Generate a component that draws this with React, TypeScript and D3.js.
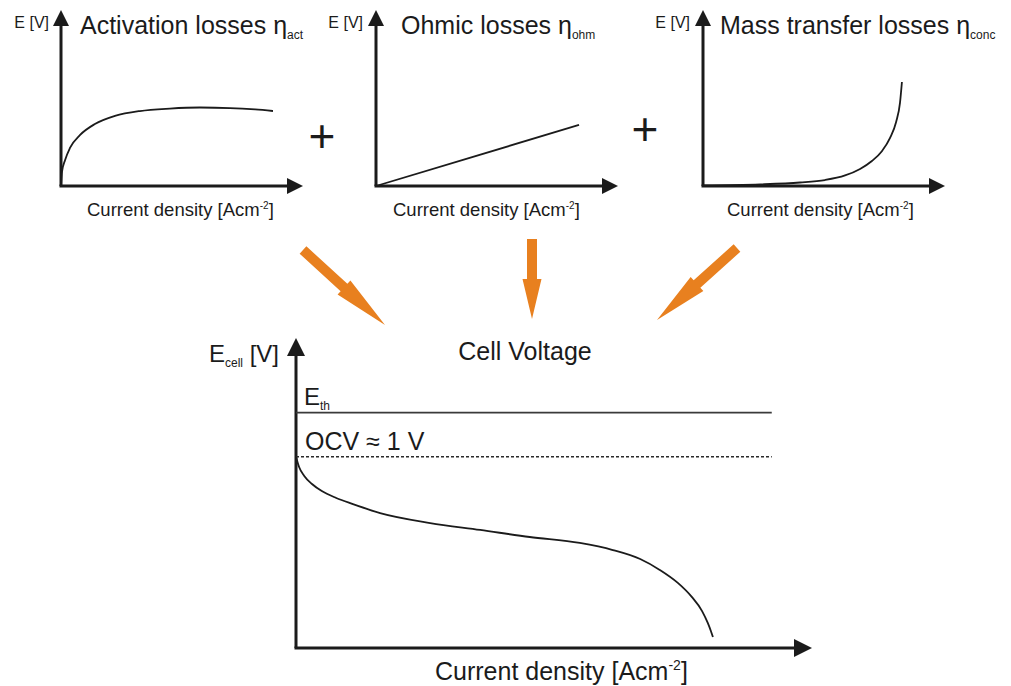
import React from "react";
import * as d3 from "d3";

// ---------- data (normalised units) ----------
const activationX = [0, 0.004, 0.017, 0.037, 0.079, 0.14, 0.223, 0.326, 0.45, 0.574, 0.698, 0.802, 0.876];
const activationY = [0, 0.08, 0.148, 0.216, 0.29, 0.352, 0.398, 0.426, 0.44, 0.446, 0.443, 0.435, 0.426];

const ohmicX = [0, 0.839];
const ohmicY = [0, 0.347];

const massX = [0, 0.236, 0.401, 0.504, 0.587, 0.649, 0.698, 0.74, 0.773, 0.798, 0.814, 0.822];
const massY = [0.003, 0.009, 0.02, 0.034, 0.06, 0.097, 0.142, 0.199, 0.273, 0.364, 0.472, 0.591];

// cell voltage (V) vs current density (normalised)
const cellX = [0, 0.006, 0.016, 0.031, 0.05, 0.078, 0.109, 0.163, 0.26, 0.357, 0.453, 0.55, 0.614, 0.667, 0.705, 0.74, 0.767, 0.787, 0.798, 0.804, 0.808];
const cellY = [1.0, 0.946, 0.899, 0.857, 0.82, 0.784, 0.753, 0.705, 0.653, 0.617, 0.58, 0.549, 0.512, 0.465, 0.408, 0.34, 0.267, 0.193, 0.131, 0.089, 0.057];

const E_TH = 1.23; // theoretical voltage
const OCV = 1.0; // open circuit voltage
const refLineEnd = 0.922;

const panelTitles = ["Activation losses ", "Ohmic losses ", "Mass transfer losses "];
const panelSubs = ["act", "ohm", "conc"];
const xLabel = "Current density [Acm";
const yLabelTop = "E [V]";

const FONT = "'Liberation Sans', Arial, Helvetica, sans-serif";
const INK = "#1b1b1b";
const ORANGE = "#E8801F";

const W = 1011;
const H = 686;

type Pt = [number, number];
const zip = (xs: number[], ys: number[]): Pt[] => xs.map((x, i) => [x, ys[i]]);

function Arrowhead({ x, y, dir, size }: { x: number; y: number; dir: "up" | "right"; size: number }) {
  const h = size, w = size / 2;
  const pts =
    dir === "up"
      ? [[x, y], [x - w, y + h], [x + w, y + h]]
      : [[x, y], [x - h, y - w], [x - h, y + w]];
  return <polygon points={pts.map((p) => p.join(",")).join(" ")} fill={INK} />;
}

function OrangeArrow({ from, to }: { from: Pt; to: Pt }) {
  const dx = to[0] - from[0], dy = to[1] - from[1];
  const L = Math.hypot(dx, dy);
  const ux = dx / L, uy = dy / L;
  const nx = -uy, ny = ux;
  const sw = 5, hw = 9.5, headL = L * 0.5;
  const bx = to[0] - ux * headL, by = to[1] - uy * headL;
  const pts: Pt[] = [
    [from[0] + nx * sw, from[1] + ny * sw],
    [bx + nx * sw, by + ny * sw],
    [bx + nx * hw, by + ny * hw],
    to,
    [bx - nx * hw, by - ny * hw],
    [bx - nx * sw, by - ny * sw],
    [from[0] - nx * sw, from[1] - ny * sw],
  ];
  return <polygon points={pts.map((p) => p.join(",")).join(" ")} fill={ORANGE} />;
}

export default function App() {
  // ----- top panels -----
  const topY = d3.scaleLinear().domain([0, 1]).range([186, 10]);
  const panels = [
    { x0: 61, titleX: 80, data: zip(activationX, activationY), xLab: 87, yLabEnd: 49 },
    { x0: 376, titleX: 401, data: zip(ohmicX, ohmicY), xLab: 393, yLabEnd: 363 },
    { x0: 703, titleX: 720, data: zip(massX, massY), xLab: 727, yLabEnd: 690 },
  ];

  // ----- bottom panel -----
  const bx = d3.scaleLinear().domain([0, 1]).range([296, 812]);
  const by = d3.scaleLinear().domain([0, 1.62]).range([648, 338]);
  const cellLine = d3
    .line<Pt>()
    .x((d) => bx(d[0]))
    .y((d) => by(d[1]))
    .curve(d3.curveMonotoneX);

  return (
    <svg
      width={W}
      height={H}
      viewBox={`0 0 ${W} ${H}`}
      style={{ position: "absolute", left: 0, top: 0, background: "#fff" }}
      fontFamily={FONT}
    >
      <rect width={W} height={H} fill="#fff" />
      {panels.map((p, i) => {
        const sx = d3.scaleLinear().domain([0, 1]).range([p.x0, p.x0 + 242]);
        const line = d3
          .line<Pt>()
          .x((d) => sx(d[0]))
          .y((d) => topY(d[1]))
          .curve(d3.curveMonotoneX);
        return (
          <g key={i}>
            <line x1={sx(0)} y1={topY(0)} x2={sx(0)} y2={topY(0.96)} stroke={INK} strokeWidth={3} />
            <line x1={sx(0) - 1.5} y1={topY(0)} x2={sx(0.96)} y2={topY(0)} stroke={INK} strokeWidth={3} />
            <Arrowhead x={sx(0)} y={topY(1)} dir="up" size={16} />
            <Arrowhead x={sx(1)} y={topY(0)} dir="right" size={16} />
            <path d={line(p.data) || ""} fill="none" stroke={INK} strokeWidth={1.8} />
            <text x={p.yLabEnd} y={28} fontSize={16} textAnchor="end" fill={INK}>
              {yLabelTop}
            </text>
            <text x={p.titleX} y={34} fontSize={25} fill={INK}>
              {panelTitles[i]}
              <tspan fontSize={25}>η</tspan>
              <tspan fontSize={12} dy={5}>{panelSubs[i]}</tspan>
            </text>
            <text x={p.xLab} y={216} fontSize={18.5} fill={INK}>
              {xLabel}
              <tspan fontSize={10} dy={-7}>-2</tspan>
              <tspan dy={7}>]</tspan>
            </text>
          </g>
        );
      })}

      <text x={322} y={152} fontSize={46} textAnchor="middle" fill={INK}>+</text>
      <text x={645} y={145} fontSize={46} textAnchor="middle" fill={INK}>+</text>

      <OrangeArrow from={[303, 250]} to={[385, 325]} />
      <OrangeArrow from={[532, 239]} to={[532, 319]} />
      <OrangeArrow from={[737, 248]} to={[657, 320]} />

      {/* bottom panel */}
      <text x={525} y={360} fontSize={25} textAnchor="middle" fill={INK}>Cell Voltage</text>
      <text x={279} y={362} fontSize={24} textAnchor="end" fill={INK}>
        E<tspan fontSize={12} dy={5}>cell</tspan>
        <tspan dy={-5}> [V]</tspan>
      </text>

      <line x1={bx(0)} y1={by(0)} x2={bx(0)} y2={by(1.55)} stroke={INK} strokeWidth={3} />
      <line x1={bx(0) - 1.5} y1={by(0)} x2={bx(0.97)} y2={by(0)} stroke={INK} strokeWidth={3} />
      <Arrowhead x={bx(0)} y={by(1.62)} dir="up" size={18} />
      <Arrowhead x={bx(1)} y={by(0)} dir="right" size={18} />

      <line x1={bx(0)} y1={by(E_TH)} x2={bx(refLineEnd)} y2={by(E_TH)} stroke="#3a3a3a" strokeWidth={1.6} />
      <line
        x1={bx(0)}
        y1={by(OCV)}
        x2={bx(refLineEnd)}
        y2={by(OCV)}
        stroke="#2a2a2a"
        strokeWidth={1.5}
        strokeDasharray="3,2"
      />
      <text x={304} y={405} fontSize={24} fill={INK}>
        E<tspan fontSize={12} dy={5}>th</tspan>
      </text>
      <text x={305} y={450} fontSize={25} fill={INK}>OCV ≈ 1 V</text>

      <path d={cellLine(zip(cellX, cellY)) || ""} fill="none" stroke={INK} strokeWidth={1.8} />

      <text x={435} y={680} fontSize={25} fill={INK}>
        {xLabel}
        <tspan fontSize={14} dy={-10}>-2</tspan>
        <tspan dy={10}>]</tspan>
      </text>
    </svg>
  );
}
